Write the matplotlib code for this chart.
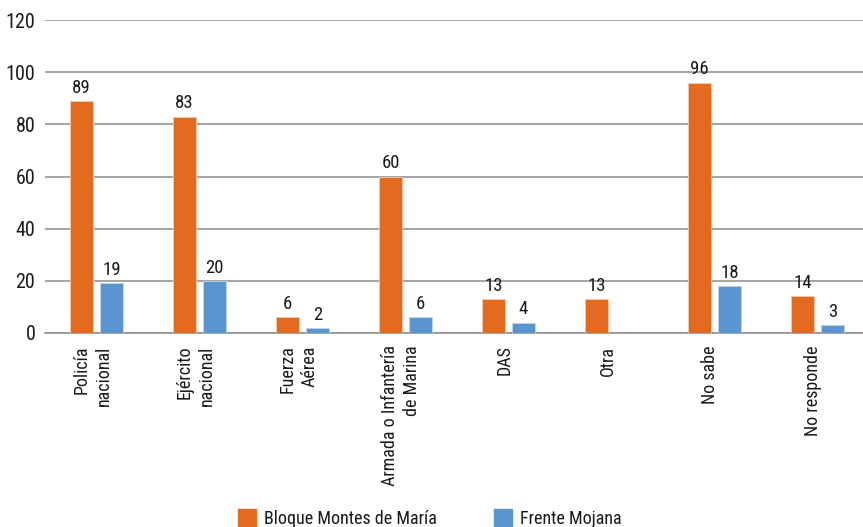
import matplotlib
matplotlib.use("Agg")
import matplotlib.pyplot as plt
import numpy as np

categories = ["Policía\nnacional", "Ejército\nnacional", "Fuerza\nAérea",
              "Armada o Infantería\nde Marina", "DAS", "Otra", "No sabe", "No responde"]
bloque_montes = [89, 83, 6, 60, 13, 13, 96, 14]
frente_mojana = [19, 20, 2, 6, 4, None, 18, 3]
series_names = ["Bloque Montes de María", "Frente Mojana"]
yticks = [0, 20, 40, 60, 80, 100, 120]

orange = "#E46A1F"
blue = "#5A95D0"
grid_col = "#8C8C8C"
text_col = "#1a1a1a"

plt.rcParams['font.family'] = ['Roboto Condensed', 'Archivo Narrow', 'DejaVu Sans']

W, H = 863, 527
fig = plt.figure(figsize=(W / 100, H / 100), dpi=100)
ax = fig.add_axes([45 / W, (H - 333) / H, 824 / W, 313 / H])

x = np.arange(len(categories))
bw = 0.215
off = 0.145

for i, v in enumerate(bloque_montes):
    ax.bar(x[i] - off, v, width=bw, color=orange, edgecolor="#F6C9AE", linewidth=0.6, zorder=3)
    ax.text(x[i] - off, v + 1.6, str(v), ha="center", va="bottom", fontsize=13.5, color=text_col)
for i, v in enumerate(frente_mojana):
    if v is None:
        continue
    ax.bar(x[i] + off, v, width=bw, color=blue, edgecolor="#BFD6EE", linewidth=0.6, zorder=3)
    ax.text(x[i] + off, v + 1.6, str(v), ha="center", va="bottom", fontsize=13.5, color=text_col)

ax.set_xlim(-0.5, len(categories) - 0.5)
ax.set_ylim(0, 120)
ax.set_yticks(yticks)
ax.set_yticklabels([str(t) for t in yticks], fontsize=14.5, color=text_col)
ax.yaxis.grid(True, color=grid_col, linewidth=1.1, zorder=0)
ax.set_axisbelow(True)
for s in ["top", "right", "left"]:
    ax.spines[s].set_visible(False)
ax.spines["bottom"].set_color(grid_col)
ax.spines["bottom"].set_linewidth(1.1)
ax.tick_params(axis="y", length=0, pad=7)
ax.tick_params(axis="x", length=0)
ax.set_xticks([])

for i, lab in enumerate(categories):
    ax.annotate(lab, xy=(x[i] - 0.04, 0), xycoords="data", xytext=(0, -9),
                textcoords="offset points", rotation=90, ha="center", va="top",
                multialignment="right", fontsize=13, color=text_col, linespacing=1.3)

# legend along the bottom edge
fig.patches.append(plt.Rectangle((238 / W, 0), 18 / W, 18 / H, transform=fig.transFigure,
                                 color=orange, clip_on=False))
fig.text(264 / W, 8 / H, series_names[0], ha="left", va="center", fontsize=13, color=text_col)
fig.patches.append(plt.Rectangle((494 / W, 0), 18 / W, 18 / H, transform=fig.transFigure,
                                 color=blue, clip_on=False))
fig.text(520 / W, 8 / H, series_names[1], ha="left", va="center", fontsize=13, color=text_col)

fig.savefig("out.png", dpi=100, facecolor="white")
